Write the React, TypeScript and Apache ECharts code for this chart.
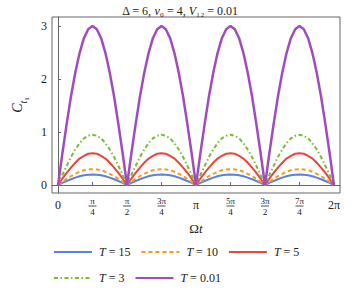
import React, { useEffect, useRef } from "react";
import * as echarts from "echarts";

const seriesNames = ["T = 15", "T = 10", "T = 5", "T = 3", "T = 0.01"];
const seriesLabels = ["15", "10", "5", "3", "0.01"];
// one arch (0 .. π/2, step π/32); the curve repeats 4 times
const archT15 = [0, 0.04, 0.077, 0.11, 0.14, 0.166, 0.185, 0.196, 0.2, 0.196, 0.185, 0.166, 0.14, 0.11, 0.077, 0.04, 0];
const archT10 = [0, 0.06, 0.115, 0.17, 0.21, 0.25, 0.28, 0.295, 0.3, 0.295, 0.28, 0.25, 0.21, 0.17, 0.115, 0.06, 0];
const archT5 = [0, 0.12, 0.23, 0.33, 0.42, 0.5, 0.55, 0.59, 0.6, 0.59, 0.55, 0.5, 0.42, 0.33, 0.23, 0.12, 0];
const archT3 = [0, 0.19, 0.36, 0.53, 0.67, 0.79, 0.88, 0.93, 0.95, 0.93, 0.88, 0.79, 0.67, 0.53, 0.36, 0.19, 0];
const archT001 = [0, 0.59, 1.15, 1.67, 2.12, 2.49, 2.77, 2.94, 3.0, 2.94, 2.77, 2.49, 2.12, 1.67, 1.15, 0.59, 0];
const arches = [archT15, archT10, archT5, archT3, archT001];
const periods = 4;

const xTickValues = [0, Math.PI / 4, Math.PI / 2, (3 * Math.PI) / 4, Math.PI, (5 * Math.PI) / 4, (3 * Math.PI) / 2, (7 * Math.PI) / 4, 2 * Math.PI];
const xTickNum = ["0", "π", "π", "3π", "π", "5π", "3π", "7π", "2π"];
const xTickDen = ["", "4", "2", "4", "", "4", "2", "4", ""];
const yTickValues = [0, 1, 2, 3];

const colors = ["#5B80E6", "#F59B20", "#E8483A", "#7CBA2E", "#A04CBE"];
const dashes: any[] = ["solid", [4, 3], "solid", [4, 2.5, 1.5, 2.5], "solid"];
const widths = [2, 2, 2, 2, 2.5];

const FONT = "Liberation Serif";

function buildData(arch: number[]) {
  const out: number[][] = [];
  const n = arch.length - 1;
  for (let p = 0; p < periods; p++) {
    for (let k = p === 0 ? 0 : 1; k <= n; k++) {
      out.push([((p * n + k) * Math.PI) / (2 * n), arch[k]]);
    }
  }
  return out;
}

export default function App() {
  const ref = useRef<HTMLDivElement>(null);
  useEffect(() => {
    if (!ref.current) return;
    const chart = echarts.init(ref.current, null, { renderer: "svg" });
    const legendText = {
      fontFamily: FONT,
      fontSize: 12,
      color: "#222",
      padding: [0, 0, 0, 2],
      rich: {
        i: { fontFamily: FONT, fontStyle: "italic", fontSize: 12, color: "#222" },
        r: { fontFamily: FONT, fontSize: 12, color: "#222" },
      },
    };
    const legendFmt = (name: string) => {
      const idx = seriesNames.indexOf(name);
      return `{i|T}{r| = ${seriesLabels[idx]}}`;
    };
    const legendCommon = {
      left: 48,
      itemWidth: 38,
      itemHeight: 12,
      itemGap: 10,
      textStyle: legendText,
      formatter: legendFmt,
      itemStyle: { opacity: 0 },
    };
    chart.setOption({
      animation: false,
      title: {
        text: "{r|Δ = 6, }{i|ν}{r|₀ = 4, }{i|V}{r|₁₂ = 0.01}",
        left: "center",
        top: 0,
        textStyle: {
          fontFamily: FONT,
          fontSize: 12,
          fontWeight: "normal",
          color: "#222",
          rich: {
            r: { fontFamily: FONT, fontSize: 12, color: "#222" },
            i: { fontFamily: FONT, fontSize: 12, fontStyle: "italic", color: "#222" },
          },
        },
      },
      grid: {
        left: 52,
        right: 20,
        top: 17,
        bottom: 102,
        show: true,
        borderColor: "#666",
        borderWidth: 1,
        backgroundColor: "transparent",
      },
      legend: [
        { ...legendCommon, data: seriesNames.slice(0, 3), top: 241 },
        { ...legendCommon, data: seriesNames.slice(3), top: 267 },
      ],
      xAxis: {
        type: "value",
        min: -0.137,
        max: 2 * Math.PI + 0.137,
        name: "{r|Ω}{i|t}",
        nameLocation: "middle",
        nameGap: 29,
        nameTextStyle: {
          fontFamily: FONT,
          fontSize: 13,
          color: "#222",
          rich: {
            r: { fontFamily: FONT, fontSize: 13, color: "#222" },
            i: { fontFamily: FONT, fontSize: 13, fontStyle: "italic", color: "#222" },
          },
        },
        axisLine: { show: true, lineStyle: { color: "#666", width: 1 } },
        axisTick: { show: true, inside: true, length: 3, customValues: xTickValues, lineStyle: { color: "#666" } },
        splitLine: { show: false },
        axisLabel: {
          customValues: xTickValues,
          margin: 4,
          verticalAlign: "top",
          fontFamily: FONT,
          fontSize: 11,
          color: "#222",
          formatter: (v: number) => {
            let idx = 0;
            let best = Infinity;
            xTickValues.forEach((t, i) => {
              if (Math.abs(t - v) < best) {
                best = Math.abs(t - v);
                idx = i;
              }
            });
            if (!xTickDen[idx]) return `{s|${xTickNum[idx]}}`;
            return `{n|${xTickNum[idx]}}\n{b| }\n{d|${xTickDen[idx]}}`;
          },
          rich: {
            s: { fontFamily: FONT, fontSize: 12, color: "#222", lineHeight: 15, padding: [0, 0, 0, 0] },
            n: { fontFamily: FONT, fontSize: 9, color: "#222", lineHeight: 8, align: "center" },
            b: { width: 8, height: 0.8, lineHeight: 2, backgroundColor: "#222", align: "center" },
            d: { fontFamily: FONT, fontSize: 9, color: "#222", lineHeight: 9, align: "center" },
          },
        },
      },
      yAxis: {
        type: "value",
        min: -0.15,
        max: 3.17,
        name: "{i|C}{s|t}{u|1}",
        nameLocation: "middle",
        nameRotate: 90,
        nameGap: 22,
        nameTextStyle: {
          fontFamily: FONT,
          color: "#222",
          rich: {
            i: { fontFamily: FONT, fontSize: 14, fontStyle: "italic", color: "#222", lineHeight: 18, verticalAlign: "bottom" },
            s: { fontFamily: FONT, fontSize: 10, fontStyle: "italic", color: "#222", lineHeight: 18, verticalAlign: "bottom", padding: [0, 0, -4, 0] },
            u: { fontFamily: FONT, fontSize: 7, color: "#222", lineHeight: 18, verticalAlign: "bottom", padding: [0, 0, -6, 0] },
          },
        },
        axisLine: { show: true, lineStyle: { color: "#666", width: 1 } },
        axisTick: { show: true, inside: true, length: 3, customValues: yTickValues, lineStyle: { color: "#666" } },
        splitLine: { show: false },
        axisLabel: {
          customValues: yTickValues,
          margin: 5,
          fontFamily: FONT,
          fontSize: 12,
          color: "#222",
        },
      },
      series: seriesNames.map((name, i) => ({
        name,
        type: "line",
        data: buildData(arches[i]),
        showSymbol: false,
        symbol: "none",
        smooth: false,
        color: colors[i],
        lineStyle: { color: colors[i], width: widths[i], type: dashes[i] },
        z: 2 + i,
      })),
    });
    return () => chart.dispose();
  }, []);
  return <div ref={ref} style={{ width: 360, height: 295, position: "absolute", left: 0, top: 0 }} />;
}
